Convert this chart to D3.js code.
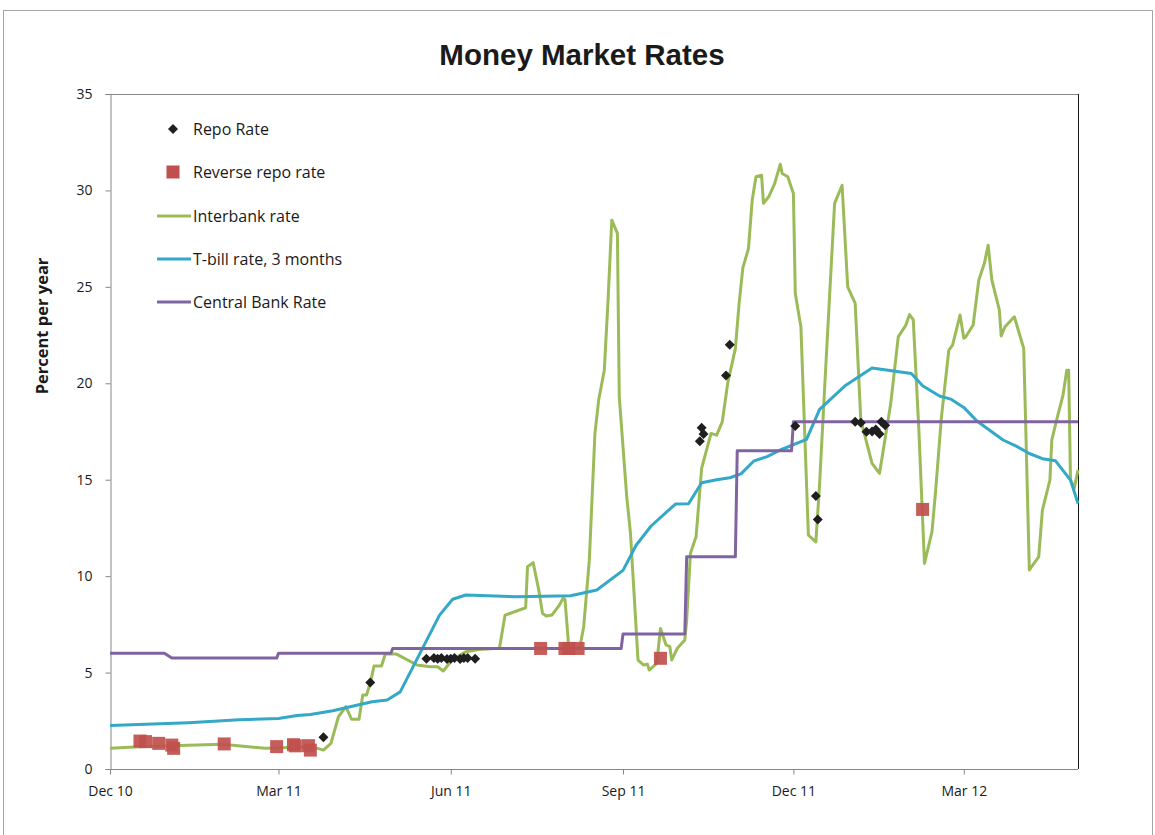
<!DOCTYPE html>
<html lang="en">
<head>
<meta charset="UTF-8">
<title>Money Market Rates</title>
<script src="https://d3js.org/d3.v7.min.js"></script>
<style>
  body { margin: 0; background: #fff; }
  text { font-family: "Open Sans", "Noto Sans", sans-serif; fill: #1a1a1a; }
</style>
</head>
<body>
<div class="chart"></div>
<script>
  // ---- data ----
  const xTickDates = ['2010-12-01', '2011-03-01', '2011-06-01', '2011-09-01', '2011-12-01', '2012-03-01'];
  const xTickLabels = ['Dec 10', 'Mar 11', 'Jun 11', 'Sep 11', 'Dec 11', 'Mar 12'];
  const yTicks = [0, 5, 10, 15, 20, 25, 30, 35];
  const seriesNames = ['Repo Rate', 'Reverse repo rate', 'Interbank rate', 'T-bill rate, 3 months', 'Central Bank Rate'];

  const repoRate = [
    ['2011-03-25', 1.65], ['2011-04-19', 4.48],
    ['2011-05-19', 5.72], ['2011-05-23', 5.75], ['2011-05-25', 5.72], ['2011-05-27', 5.75],
    ['2011-05-30', 5.7], ['2011-06-01', 5.72], ['2011-06-03', 5.75], ['2011-06-06', 5.7],
    ['2011-06-08', 5.75], ['2011-06-10', 5.75], ['2011-06-14', 5.72],
    ['2011-10-12', 17.0], ['2011-10-13', 17.7], ['2011-10-14', 17.37],
    ['2011-10-26', 20.4], ['2011-10-28', 22.0],
    ['2011-12-02', 17.78], ['2011-12-13', 14.15], ['2011-12-14', 12.94],
    ['2012-01-03', 18.0], ['2012-01-06', 17.95], ['2012-01-09', 17.49], ['2012-01-12', 17.5],
    ['2012-01-14', 17.6], ['2012-01-16', 17.37], ['2012-01-17', 18.0], ['2012-01-19', 17.83]
  ];

  const reverseRepo = [
    ['2010-12-17', 1.45], ['2010-12-20', 1.42], ['2010-12-27', 1.33], ['2011-01-03', 1.24],
    ['2011-01-04', 1.07], ['2011-01-31', 1.3], ['2011-02-28', 1.16], ['2011-03-09', 1.26],
    ['2011-03-10', 1.2], ['2011-03-17', 1.21], ['2011-03-18', 0.98],
    ['2011-07-19', 6.25], ['2011-08-01', 6.25], ['2011-08-03', 6.25], ['2011-08-08', 6.25],
    ['2011-09-21', 5.74], ['2012-02-08', 13.46]
  ];

  const interbank = [
    ['2010-12-01', 1.07], ['2010-12-17', 1.15], ['2011-01-07', 1.22], ['2011-01-30', 1.28],
    ['2011-02-13', 1.15], ['2011-02-22', 1.07], ['2011-03-19', 1.15], ['2011-03-25', 0.98],
    ['2011-03-29', 1.33], ['2011-04-02', 2.71], ['2011-04-06', 3.23], ['2011-04-09', 2.58],
    ['2011-04-13', 2.58], ['2011-04-15', 3.84], ['2011-04-17', 3.84], ['2011-04-19', 4.44],
    ['2011-04-21', 5.34], ['2011-04-25', 5.34], ['2011-04-27', 5.96], ['2011-05-03', 5.96],
    ['2011-05-14', 5.39], ['2011-05-21', 5.3], ['2011-05-25', 5.3], ['2011-05-28', 5.08],
    ['2011-06-02', 5.69], ['2011-06-09', 6.08], ['2011-06-16', 6.2], ['2011-06-27', 6.26],
    ['2011-06-30', 7.98], ['2011-07-11', 8.36], ['2011-07-12', 10.49], ['2011-07-15', 10.7],
    ['2011-07-18', 9.28], ['2011-07-20', 8.07], ['2011-07-22', 7.93], ['2011-07-25', 7.98],
    ['2011-07-29', 8.5], ['2011-07-31', 8.85], ['2011-08-01', 8.8], ['2011-08-03', 6.34],
    ['2011-08-07', 6.2], ['2011-08-09', 6.34], ['2011-08-11', 7.38], ['2011-08-14', 10.83],
    ['2011-08-17', 17.4], ['2011-08-19', 19.13], ['2011-08-22', 20.68], ['2011-08-24', 24.3],
    ['2011-08-26', 28.46], ['2011-08-29', 27.77], ['2011-08-30', 19.3], ['2011-09-03', 14.1],
    ['2011-09-05', 12.2], ['2011-09-09', 5.65], ['2011-09-12', 5.39], ['2011-09-14', 5.44],
    ['2011-09-15', 5.13], ['2011-09-19', 5.48], ['2011-09-21', 7.29], ['2011-09-24', 6.43],
    ['2011-09-26', 6.34], ['2011-09-27', 5.65], ['2011-09-30', 6.26], ['2011-10-04', 6.69],
    ['2011-10-05', 7.72], ['2011-10-07', 11.18], ['2011-10-10', 12.04], ['2011-10-13', 15.6],
    ['2011-10-18', 17.4], ['2011-10-21', 17.31], ['2011-10-24', 18.0], ['2011-10-27', 20.05],
    ['2011-10-31', 21.8], ['2011-11-02', 24.14], ['2011-11-04', 25.98], ['2011-11-07', 26.99],
    ['2011-11-09', 29.5], ['2011-11-11', 30.71], ['2011-11-14', 30.79], ['2011-11-15', 29.33],
    ['2011-11-18', 29.7], ['2011-11-21', 30.36], ['2011-11-24', 31.36], ['2011-11-25', 30.88],
    ['2011-11-28', 30.71], ['2011-12-01', 29.84], ['2011-12-02', 24.66], ['2011-12-05', 22.93],
    ['2011-12-09', 12.13], ['2011-12-13', 11.78], ['2011-12-15', 14.81], ['2011-12-18', 20.34],
    ['2011-12-23', 29.33], ['2011-12-27', 30.27], ['2011-12-30', 25.0], ['2012-01-03', 24.14],
    ['2012-01-06', 18.09], ['2012-01-12', 15.85], ['2012-01-16', 15.33], ['2012-01-18', 16.54],
    ['2012-01-22', 18.96], ['2012-01-26', 22.41], ['2012-01-30', 23.0], ['2012-02-01', 23.56],
    ['2012-02-03', 23.3], ['2012-02-06', 17.6], ['2012-02-09', 10.66], ['2012-02-13', 12.3],
    ['2012-02-15', 14.46], ['2012-02-18', 18.18], ['2012-02-22', 21.72], ['2012-02-24', 21.98],
    ['2012-02-28', 23.54], ['2012-03-01', 22.33], ['2012-03-02', 22.4], ['2012-03-06', 23.02],
    ['2012-03-09', 25.35], ['2012-03-12', 26.22], ['2012-03-14', 27.16], ['2012-03-16', 25.35],
    ['2012-03-20', 23.8], ['2012-03-21', 22.45], ['2012-03-23', 22.93], ['2012-03-28', 23.45],
    ['2012-04-02', 21.81], ['2012-04-03', 18.09], ['2012-04-05', 10.32], ['2012-04-10', 11.0],
    ['2012-04-12', 13.43], ['2012-04-16', 14.98], ['2012-04-17', 17.06], ['2012-04-20', 18.26],
    ['2012-04-23', 19.39], ['2012-04-25', 20.68], ['2012-04-26', 20.68], ['2012-04-27', 14.98],
    ['2012-04-29', 14.55], ['2012-05-01', 15.5]
  ];

  const tbill = [
    ['2010-12-01', 2.25], ['2011-01-12', 2.4], ['2011-02-08', 2.55], ['2011-03-01', 2.62],
    ['2011-03-11', 2.77], ['2011-03-18', 2.83], ['2011-03-30', 3.02], ['2011-04-10', 3.27],
    ['2011-04-20', 3.49], ['2011-04-28', 3.58], ['2011-05-05', 4.0], ['2011-05-26', 7.98],
    ['2011-06-02', 8.8], ['2011-06-09', 9.02], ['2011-07-06', 8.93], ['2011-08-04', 8.98],
    ['2011-08-18', 9.28], ['2011-09-01', 10.3], ['2011-09-08', 11.6], ['2011-09-16', 12.6],
    ['2011-09-29', 13.74], ['2011-10-06', 13.75], ['2011-10-13', 14.84], ['2011-10-21', 15.0],
    ['2011-10-28', 15.1], ['2011-11-03', 15.3], ['2011-11-10', 15.98], ['2011-11-17', 16.2],
    ['2011-11-24', 16.54], ['2011-12-08', 17.09], ['2011-12-15', 18.65], ['2011-12-29', 19.9],
    ['2012-01-12', 20.79], ['2012-02-02', 20.51], ['2012-02-08', 19.87], ['2012-02-17', 19.34],
    ['2012-02-23', 19.18], ['2012-03-01', 18.75], ['2012-03-08', 18.04], ['2012-03-22', 17.06],
    ['2012-03-29', 16.74], ['2012-04-05', 16.36], ['2012-04-12', 16.09], ['2012-04-19', 15.98],
    ['2012-04-27', 14.98], ['2012-05-01', 13.77]
  ];

  const centralBank = [
    ['2010-12-01', 6.0], ['2010-12-30', 6.0], ['2011-01-03', 5.75], ['2011-02-28', 5.75],
    ['2011-03-01', 6.0], ['2011-04-30', 6.0], ['2011-05-01', 6.25], ['2011-08-31', 6.25],
    ['2011-09-01', 7.0], ['2011-10-04', 7.0], ['2011-10-05', 11.0], ['2011-10-31', 11.0],
    ['2011-11-01', 16.5], ['2011-11-30', 16.5], ['2011-12-01', 18.0], ['2012-05-01', 18.0]
  ];

  const colors = { repo: '#1f1f1f', rev: '#c0504d', inter: '#9bbb59', tbill: '#33a8c7', cbr: '#8064a2' };

  // ---- layout ----
  const W = 1155, H = 835;
  const plot = { left: 110, right: 1078, top: 94, bottom: 769 };
  const parse = d3.timeParse('%Y-%m-%d');
  const toPts = arr => arr.map(d => ({ date: parse(d[0]), value: d[1] }));

  const svg = d3.select('.chart').append('svg').attr('width', W).attr('height', H);
  svg.append('rect').attr('width', W).attr('height', H).attr('fill', '#fff');
  svg.append('rect').attr('x', 3.5).attr('y', 10.5).attr('width', 1149).attr('height', 840)
    .attr('fill', 'none').attr('stroke', '#a6a6a6').attr('stroke-width', 1);

  const xScale = d3.scaleTime().domain([parse('2010-12-01'), parse('2012-05-01')]).range([plot.left, plot.right]);
  const yScale = d3.scaleLinear().domain([0, 35]).range([plot.bottom, plot.top]);

  // plot border: top gray, right dark
  svg.append('line').attr('x1', plot.left).attr('x2', plot.right).attr('y1', plot.top + 0.5).attr('y2', plot.top + 0.5)
    .attr('stroke', '#868686');
  svg.append('line').attr('x1', plot.right + 0.5).attr('x2', plot.right + 0.5).attr('y1', plot.top).attr('y2', plot.bottom)
    .attr('stroke', '#1a1a1a');

  // axes
  const yAxis = d3.axisLeft(yScale).tickValues(yTicks).tickSize(5).tickPadding(13);
  const gy = svg.append('g').attr('transform', `translate(${plot.left + 0.5},0)`).call(yAxis);
  const xAxis = d3.axisBottom(xScale).tickValues(xTickDates.map(parse)).tickSize(5).tickPadding(12)
    .tickFormat((d, i) => xTickLabels[i]);
  const gx = svg.append('g').attr('transform', `translate(0,${plot.bottom + 0.5})`).call(xAxis);
  [gx, gy].forEach(g => {
    g.select('.domain').attr('stroke', '#868686');
    g.selectAll('.tick line').attr('stroke', '#868686');
    g.selectAll('.tick text').attr('font-family', '"Open Sans", sans-serif').attr('font-size', 14).attr('fill', '#1a1a1a');
  });
  gx.select('.domain').attr('d', `M${plot.left},0H${plot.right}`);

  // title & axis label
  svg.append('text').attr('x', 582).attr('y', 65).attr('text-anchor', 'middle')
    .style('font-family', '"Liberation Sans", Arial, sans-serif').style('font-weight', 'bold').style('font-size', '29.5px')
    .text('Money Market Rates');
  svg.append('text').attr('transform', 'translate(48,326) rotate(-90)').attr('text-anchor', 'middle')
    .style('font-weight', 'bold').style('font-size', '16.5px').text('Percent per year');

  // lines
  const line = d3.line().x(d => xScale(d.date)).y(d => yScale(d.value));
  const drawLine = (data, color) => svg.append('path').attr('d', line(toPts(data)))
    .attr('fill', 'none').attr('stroke', color).attr('stroke-width', 3).attr('stroke-linejoin', 'round');
  drawLine(interbank, colors.inter);
  drawLine(tbill, colors.tbill);
  drawLine(centralBank, colors.cbr);

  // markers
  const sq = 13;
  svg.append('g').selectAll('rect').data(toPts(reverseRepo)).join('rect')
    .attr('x', d => xScale(d.date) - sq / 2).attr('y', d => yScale(d.value) - sq / 2)
    .attr('width', sq).attr('height', sq).attr('fill', colors.rev).attr('fill-opacity', 0.92);
  const diamond = d3.symbol().type(d3.symbolSquare).size(50);
  svg.append('g').selectAll('path').data(toPts(repoRate)).join('path')
    .attr('d', diamond)
    .attr('transform', d => `translate(${xScale(d.date)},${yScale(d.value)}) rotate(45)`)
    .attr('fill', colors.repo);

  // legend
  const legendY = [129, 172, 216, 259, 302];
  const lg = svg.append('g');
  lg.append('path').attr('d', diamond).attr('transform', `translate(173,${legendY[0]}) rotate(45)`).attr('fill', colors.repo);
  lg.append('rect').attr('x', 173 - sq / 2).attr('y', legendY[1] - sq / 2).attr('width', sq).attr('height', sq).attr('fill', colors.rev);
  [colors.inter, colors.tbill, colors.cbr].forEach((c, i) => {
    lg.append('line').attr('x1', 157).attr('x2', 191).attr('y1', legendY[i + 2]).attr('y2', legendY[i + 2])
      .attr('stroke', c).attr('stroke-width', 3);
  });
  seriesNames.forEach((name, i) => {
    lg.append('text').attr('x', 193).attr('y', legendY[i]).attr('dy', '0.35em')
      .style('font-size', '16px').text(name);
  });
</script>
</body>
</html>
